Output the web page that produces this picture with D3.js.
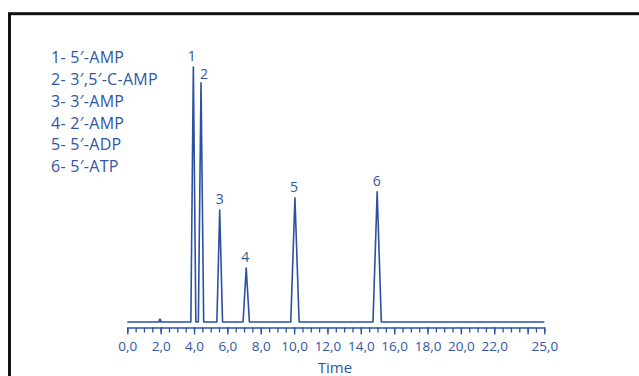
<!DOCTYPE html>
<html>
<head>
<meta charset="utf-8">
<script src="https://cdn.jsdelivr.net/npm/d3@7"></script>
<style>
  html, body { margin: 0; padding: 0; background: #fff; }
  svg { display: block; }
  text { font-family: "Open Sans", "Noto Sans", sans-serif; fill: #2f56a3; }
</style>
</head>
<body>
<div id="chart"></div>
<script>
/* peak table: retention time (min), height (% of peak 1), half base width (min) */
var compounds   = ['5\u2032-AMP', '3\u2032,5\u2032-C-AMP', '3\u2032-AMP', '2\u2032-AMP', '5\u2032-ADP', '5\u2032-ATP'];
var peakTime    = [3.96, 4.42, 5.54, 7.13, 10.05, 14.98];
var peakHeight  = [100, 93.8, 43.9, 21.2, 48.7, 51.1];
var peakHalfW   = [0.15, 0.16, 0.17, 0.19, 0.25, 0.25];
/* small disturbance near 2 min */
var blipTime    = 1.96, blipHeight = 1.1, blipHalfW = 0.06;

var majorTicks  = [0, 2, 4, 6, 8, 10, 12, 14, 16, 18, 20, 22, 24, 25];
var tickLabels  = [0, 2, 4, 6, 8, 10, 12, 14, 16, 18, 20, 22, 25];
var minorTicks  = d3.range(0, 25.01, 0.5);

var W = 639, H = 376;
var blue = '#2c51a0';

var svg = d3.select('#chart').append('svg')
  .attr('width', W).attr('height', H);

/* frame (runs off right and bottom edges) */
svg.append('rect')
  .attr('x', 9.5).attr('y', 13.7)
  .attr('width', W + 20).attr('height', H + 20)
  .attr('fill', 'none').attr('stroke', '#111').attr('stroke-width', 3);

var x = d3.scaleLinear().domain([0, 25]).range([127.3, 544.3]);
var y = d3.scaleLinear().domain([0, 100]).range([322, 67]);
var axisY = 327.5;

/* trace: baseline with a triangle per peak */
var pts = [[0, 0]];
var bl = [[blipTime - blipHalfW, 0], [blipTime - blipHalfW * 0.3, blipHeight], [blipTime + blipHalfW * 0.3, blipHeight], [blipTime + blipHalfW, 0]];
pts = pts.concat(bl);
peakTime.forEach(function (t, i) {
  pts.push([t - peakHalfW[i], 0]);
  pts.push([t, peakHeight[i]]);
  pts.push([t + peakHalfW[i], 0]);
});
pts.push([25, 0]);

svg.append('path')
  .datum(pts)
  .attr('d', d3.line().x(function (d) { return x(d[0]); }).y(function (d) { return y(d[1]); }))
  .attr('fill', 'none').attr('stroke', blue).attr('stroke-width', 1.6)
  .attr('stroke-linejoin', 'round');

/* peak numbers */
var nudge = [-1.5, 3, 0, -1, -1, -0.5];
svg.selectAll('.pk').data(peakTime).enter().append('text')
  .attr('class', 'pk')
  .attr('x', function (d, i) { return x(d) + nudge[i]; })
  .attr('y', function (d, i) { return y(peakHeight[i]) - (i === 1 ? 4 : 6); })
  .attr('text-anchor', 'middle')
  .style('font-size', '14px')
  .text(function (d, i) { return i + 1; });

/* legend */
svg.selectAll('.lg').data(compounds).enter().append('text')
  .attr('class', 'lg')
  .attr('x', 51)
  .attr('y', function (d, i) { return 62.8 + i * 21.9; })
  .style('font-size', '16px')
  .style('letter-spacing', '0.3px')
  .text(function (d, i) { return (i + 1) + '- ' + d; });

/* axis */
var g = svg.append('g').attr('transform', 'translate(0,' + axisY + ')');
g.append('g')
  .call(d3.axisBottom(x).tickValues(minorTicks).tickSize(5).tickSizeOuter(0).tickFormat(''))
  .call(function (s) { s.select('.domain').remove(); });
g.append('g')
  .call(d3.axisBottom(x).tickValues(majorTicks).tickSize(7).tickSizeOuter(0).tickFormat(''));
g.selectAll('line, path').attr('stroke', blue).attr('stroke-width', 1.3);
g.select('.domain').attr('stroke-width', 1.6);

var fmt = d3.formatLocale({ decimal: ',', thousands: '.', grouping: [3], currency: ['', ''] }).format('.1f');
g.append('g')
  .call(d3.axisBottom(x).tickValues(tickLabels).tickSize(0).tickPadding(13.5).tickFormat(fmt))
  .call(function (s) {
    s.select('.domain').remove();
    s.selectAll('text').style('font-size', '13.5px').style('font-family', '"Open Sans", sans-serif').attr('fill', '#2f56a3');
  });

svg.append('text')
  .attr('x', 335).attr('y', 372.5)
  .attr('text-anchor', 'middle')
  .style('font-size', '15px')
  .text('Time');
</script>
</body>
</html>
